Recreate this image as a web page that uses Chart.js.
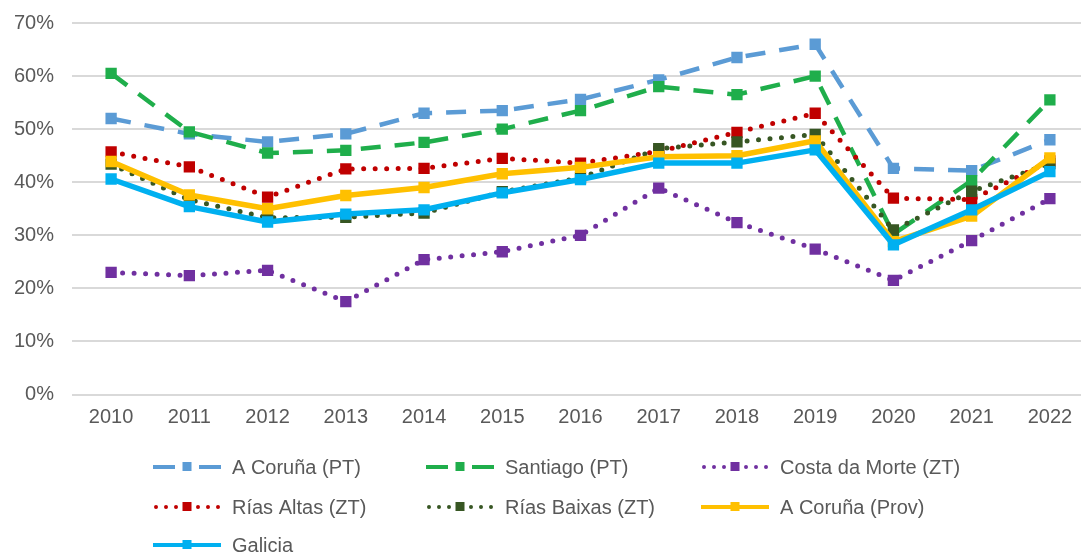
<!DOCTYPE html>
<html>
<head>
<meta charset="utf-8">
<script src="https://cdn.jsdelivr.net/npm/chart.js@4/dist/chart.umd.min.js"></script>
<style>
html,body{margin:0;padding:0;overflow:hidden;background:#fff;}
#wrap{width:1089px;height:557px;}
</style>
</head>
<body>
<div id="wrap"><canvas id="c" width="1089" height="557"></canvas></div>
<script>
const categories = ['2010','2011','2012','2013','2014','2015','2016','2017','2018','2019','2020','2021','2022'];
const yTicks = [0,10,20,30,40,50,60,70];
const seriesNames = ['A Coruña (PT)','Santiago (PT)','Costa da Morte (ZT)','Rías Altas (ZT)','Rías Baixas (ZT)','A Coruña (Prov)','Galicia'];
const coruPT     = [52.0, 49.1, 47.6, 49.1, 53.0, 53.5, 55.6, 59.3, 63.5, 66.0, 42.6, 42.2, 48.0];
const santiagoPT = [60.5, 49.5, 45.5, 46.0, 47.5, 50.0, 53.5, 58.0, 56.5, 60.0, 30.2, 40.3, 55.5];
const costaMorte = [23.0, 22.4, 23.4, 17.5, 25.4, 26.9, 30.0, 38.9, 32.4, 27.4, 21.5, 29.0, 36.9];
const riasAltas  = [45.7, 42.9, 37.2, 42.5, 42.6, 44.5, 43.6, 45.8, 49.4, 53.0, 37.0, 36.7, 44.0];
const riasBaixas = [43.4, 36.7, 33.3, 33.4, 34.2, 38.2, 40.8, 46.3, 47.6, 49.0, 31.0, 38.3, 43.5];
const coruProv   = [43.9, 37.6, 35.0, 37.5, 39.0, 41.6, 42.8, 44.8, 45.0, 47.8, 28.8, 33.6, 44.6];
const galicia    = [40.6, 35.4, 32.5, 34.0, 34.8, 38.0, 40.5, 43.6, 43.6, 46.1, 28.2, 34.8, 42.0];

const FONT = "'Liberation Sans', Arial, sans-serif";
const TXT = '#595959';
const DASH = [20, 14];
const DOT = [0, 11.5];

function ds(label, data, color, dash, width, kind, order){
  return {
    label, data, borderColor: color, backgroundColor: color,
    borderWidth: width, borderDash: dash,
    borderCapStyle: kind === 'dot' ? 'round' : 'butt',
    borderJoinStyle: 'round',
    pointStyle: 'rect', pointRadius: 8, pointHoverRadius: 8,
    pointBorderWidth: 0, pointBackgroundColor: color,
    tension: 0, fill: false, order, kind
  };
}

const datasets = [
  ds(seriesNames[0], coruPT, '#5B9BD5', DASH, 4.5, 'dash', 7),
  ds(seriesNames[1], santiagoPT, '#1FAE4B', DASH, 4.5, 'dash', 6),
  ds(seriesNames[2], costaMorte, '#7030A0', DOT, 5, 'dot', 5),
  ds(seriesNames[3], riasAltas, '#C00000', DOT, 5, 'dot', 4),
  ds(seriesNames[4], riasBaixas, '#375623', DOT, 5, 'dot', 3),
  ds(seriesNames[5], coruProv, '#FFC000', [], 5.5, 'solid', 2),
  ds(seriesNames[6], galicia, '#00B0F0', [], 5.5, 'solid', 1)
];

const legendPlugin = {
  id: 'gridLegend',
  afterDraw(chart){
    const ctx = chart.ctx;
    const cols = [153, 426, 701];
    const rows = [467, 507, 545];
    const symW = 68;
    ctx.save();
    chart.data.datasets.forEach((d, i) => {
      const x0 = cols[i % 3];
      const y = rows[Math.floor(i / 3)];
      const mid = x0 + symW / 2;
      ctx.strokeStyle = d.borderColor;
      ctx.lineWidth = 4;
      ctx.lineCap = d.kind === 'dot' ? 'round' : 'butt';
      if (d.kind === 'solid') {
        ctx.setLineDash([]);
        ctx.beginPath(); ctx.moveTo(x0, y); ctx.lineTo(x0 + symW, y); ctx.stroke();
      } else {
        const pat = d.kind === 'dot' ? [0, 10] : [22, 12];
        ctx.setLineDash(pat);
        const st = d.kind === 'dot' ? 3 : 0;
        ctx.beginPath(); ctx.moveTo(x0 + st, y); ctx.lineTo(mid, y); ctx.stroke();
        ctx.beginPath(); ctx.moveTo(x0 + symW - st, y); ctx.lineTo(mid, y); ctx.stroke();
      }
      ctx.setLineDash([]);
      ctx.fillStyle = d.borderColor;
      ctx.fillRect(mid - 4.5, y - 5, 9, 9);
      ctx.fillStyle = TXT;
      ctx.font = '20px ' + FONT;
      ctx.textBaseline = 'middle';
      ctx.textAlign = 'left';
      ctx.fillText(d.label, x0 + symW + 11, y + 1);
    });
    ctx.restore();
  }
};

new Chart(document.getElementById('c'), {
  type: 'line',
  data: { labels: categories, datasets },
  options: {
    responsive: false,
    animation: false,
    layout: { autoPadding: false, padding: { top: 23, bottom: 116.5, left: 13, right: 0 } },
    plugins: { legend: { display: false }, tooltip: { enabled: false } },
    scales: {
      x: {
        offset: true,
        grid: { display: false, drawTicks: false },
        border: { display: false },
        ticks: { color: TXT, font: { family: FONT, size: 20 }, padding: 11, maxRotation: 0, autoSkip: false }
      },
      y: {
        min: 0, max: 70,
        afterBuildTicks(scale){ scale.ticks = yTicks.map(v => ({ value: v })); },
        afterFit(scale){ scale.width = 59; scale.paddingTop = 10; scale.paddingBottom = 10; },
        grid: { color: '#D9D9D9', lineWidth: 2, drawTicks: false },
        border: { display: false },
        ticks: { color: TXT, font: { family: FONT, size: 20 }, padding: 18, callback: v => v + '%' }
      }
    }
  },
  plugins: [legendPlugin]
});
</script>
</body>
</html>
